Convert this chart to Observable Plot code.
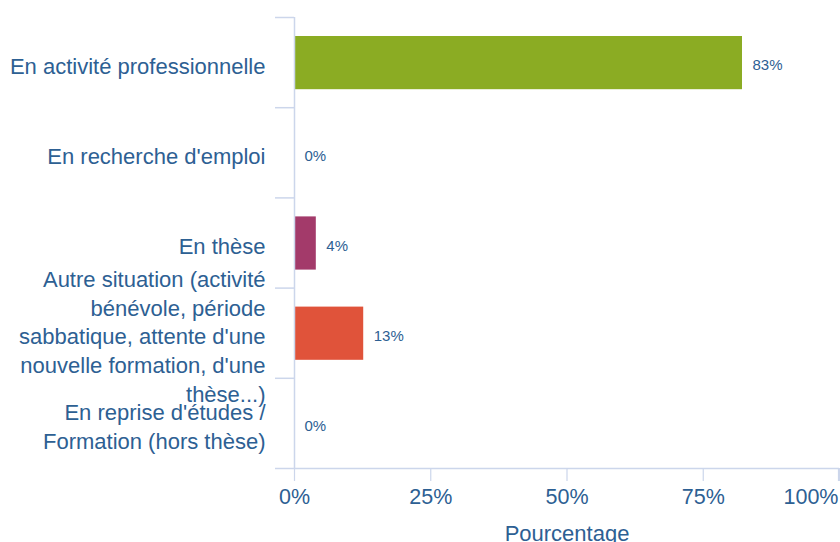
<!DOCTYPE html>
<html>
<head>
<meta charset="utf-8">
<script src="https://cdn.jsdelivr.net/npm/d3@7"></script>
<script src="https://cdn.jsdelivr.net/npm/@observablehq/plot@0.6"></script>
<style>
  body { margin: 0; background: white; overflow: hidden; }
  #chart { width: 840px; height: 542px; overflow: hidden; }
</style>
</head>
<body>
<div id="chart"></div>
<script>
const categories = [
  "En activité professionnelle",
  "En recherche d'emploi",
  "En thèse",
  "Autre situation (activité\nbénévole, période\nsabbatique, attente d'une\nnouvelle formation, d'une\nthèse...)",
  "En reprise d'études /\nFormation (hors thèse)"
];
const values = [82.2, 0, 4, 12.7, 0];
const valueLabels = ["83%", "0%", "4%", "13%", "0%"];
const barColors = ["#8bac23", "#8bac23", "#a33a6a", "#e0533a", "#8bac23"];
const xTicks = [0, 25, 50, 75, 100];
const bandBounds = [0, 1, 2, 3, 4, 5];
const axisTitle = "Pourcentage";

const textColor = "#2d6093";
const lineColor = "#ccd6eb";

const rows = categories.map((c, i) => ({
  cat: c, idx: i, value: values[i], label: valueLabels[i], color: barColors[i]
}));
const lastTick = xTicks[xTicks.length - 1];

const chart = Plot.plot({
  width: 840,
  height: 542,
  marginLeft: 294,
  marginTop: 17,
  marginBottom: 74,
  marginRight: 1,
  style: { fontFamily: "'Liberation Sans', Arial, sans-serif", color: textColor, background: "white", overflow: "visible" },
  x: { domain: [0, 100] },
  y: { domain: [0, 5], reverse: true },
  marks: [
    Plot.rectX(rows.filter(d => d.value > 0), {
      x1: 0, x2: "value", y1: "idx", y2: d => d.idx + 1,
      insetTop: 19, insetBottom: 18, fill: "color"
    }),
    Plot.ruleX([0], { stroke: lineColor, strokeWidth: 1.5 }),
    Plot.ruleY([5], { stroke: lineColor, strokeWidth: 1.5 }),
    Plot.axisY({ ticks: bandBounds, tickSize: 19, tickFormat: () => "", stroke: lineColor, strokeWidth: 1.5, label: null }),
    Plot.axisX({ ticks: xTicks, tickFormat: d => d === lastTick ? "" : d + "%", tickSize: 13, tickPadding: 7, fontSize: 21.5, stroke: lineColor, strokeWidth: 1.2, fill: textColor, label: null }),
    Plot.axisX({ ticks: [lastTick], tickFormat: d => d + "%", tickSize: 13, tickPadding: 7, fontSize: 21.5, textAnchor: "end", dx: -1, stroke: lineColor, strokeWidth: 1.2, fill: textColor, label: null }),
    Plot.text(rows, {
      x: 0, y: d => d.idx + 0.5, text: "cat", textAnchor: "end", dx: -29, dy: 2,
      fontSize: 22, lineHeight: 1.3, fill: textColor
    }),
    Plot.text(rows, {
      x: "value", y: d => d.idx + 0.5, text: "label", textAnchor: "start", dx: 10, dy: 3,
      fontSize: 15, fill: textColor
    }),
    Plot.text([axisTitle], {
      frameAnchor: "bottom", dy: 72, text: d => d, fontSize: 22, fill: textColor
    })
  ]
});
document.getElementById("chart").appendChild(chart);
</script>
</body>
</html>
